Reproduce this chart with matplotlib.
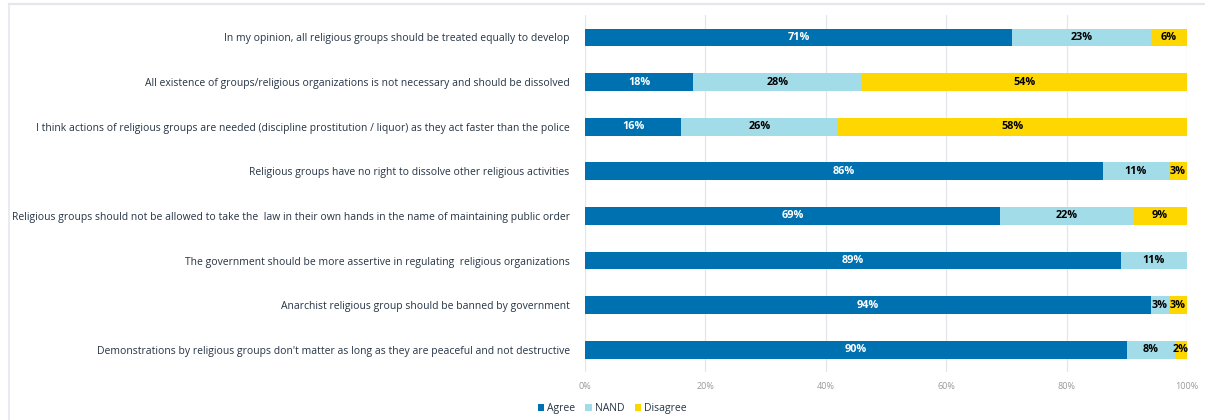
import matplotlib
matplotlib.use("Agg")
import matplotlib.pyplot as plt
from matplotlib.lines import Line2D
from matplotlib.patches import Patch

statements = [
    "In my opinion, all religious groups should be treated equally to develop",
    "All existence of groups/religious organizations is not necessary and should be dissolved",
    "I think actions of religious groups are needed (discipline prostitution / liquor) as they act faster than the police",
    "Religious groups have no right to dissolve other religious activities",
    "Religious groups should not be allowed to take the  law in their own hands in the name of maintaining public order",
    "The government should be more assertive in regulating  religious organizations",
    "Anarchist religious group should be banned by government",
    "Demonstrations by religious groups don't matter as long as they are peaceful and not destructive",
]
agree = [71, 18, 16, 86, 69, 89, 94, 90]
nand = [23, 28, 26, 11, 22, 11, 3, 8]
disagree = [6, 54, 58, 3, 9, 0, 3, 2]
series_names = ["Agree", "NAND", "Disagree"]
x_ticks = [0, 20, 40, 60, 80, 100]

colors = ["#0071B0", "#A2DCE8", "#FFD700"]
label_colors = ["white", "black", "black"]

plt.rcParams["font.family"] = ["Open Sans", "DejaVu Sans"]

fig = plt.figure(figsize=(12.05, 4.2), dpi=100)
ax = fig.add_axes([0.4855, 0.114, 0.4995, 0.850])

ypos = list(range(len(statements)))
left = [0] * len(statements)
for name, vals, col, lc in zip(series_names, [agree, nand, disagree], colors, label_colors):
    bars = ax.barh(ypos, vals, left=left, height=0.4, color=col, label=name, zorder=2)
    for b, v in zip(bars, vals):
        if v > 0:
            ax.text(b.get_x() + b.get_width() / 2, b.get_y() + b.get_height() / 2,
                    f"{v}%", ha="center", va="center", color=lc,
                    fontsize=7.8, fontweight="bold", zorder=3)
    left = [l + v for l, v in zip(left, vals)]

ax.set_xlim(0, 100)
ax.set_ylim(len(statements) - 0.5, -0.5)
ax.set_xticks(x_ticks)
ax.set_xticklabels([f"{t}%" for t in x_ticks], color="#9a9a9a", fontsize=6.5)
ax.set_yticks(ypos)
ax.set_yticklabels(statements, color="#263445", fontsize=7.5)
ax.tick_params(axis="y", length=0, pad=11)
ax.tick_params(axis="x", length=0, pad=7)
ax.grid(axis="x", color="#e3e6ea", linewidth=0.9, zorder=0)
for s in ax.spines.values():
    s.set_visible(False)

handles = [Patch(facecolor=c, edgecolor="none") for c in colors]
fig.legend(handles, series_names, loc="center", bbox_to_anchor=(0.508, 0.027),
           ncol=3, frameon=False, fontsize=7.5, handlelength=0.6, handleheight=0.6,
           handletextpad=0.3, columnspacing=1.0, labelcolor="#263445")

# panel frame
fig.add_artist(Line2D([0.0075, 1.0], [0.990, 0.990], transform=fig.transFigure,
                      color="#e4e7ec", linewidth=1.6))
fig.add_artist(Line2D([0.0075, 0.0075], [0.0, 0.990], transform=fig.transFigure,
                      color="#e4e7ec", linewidth=1.2))

fig.savefig("out.png", dpi=100, facecolor="white")
